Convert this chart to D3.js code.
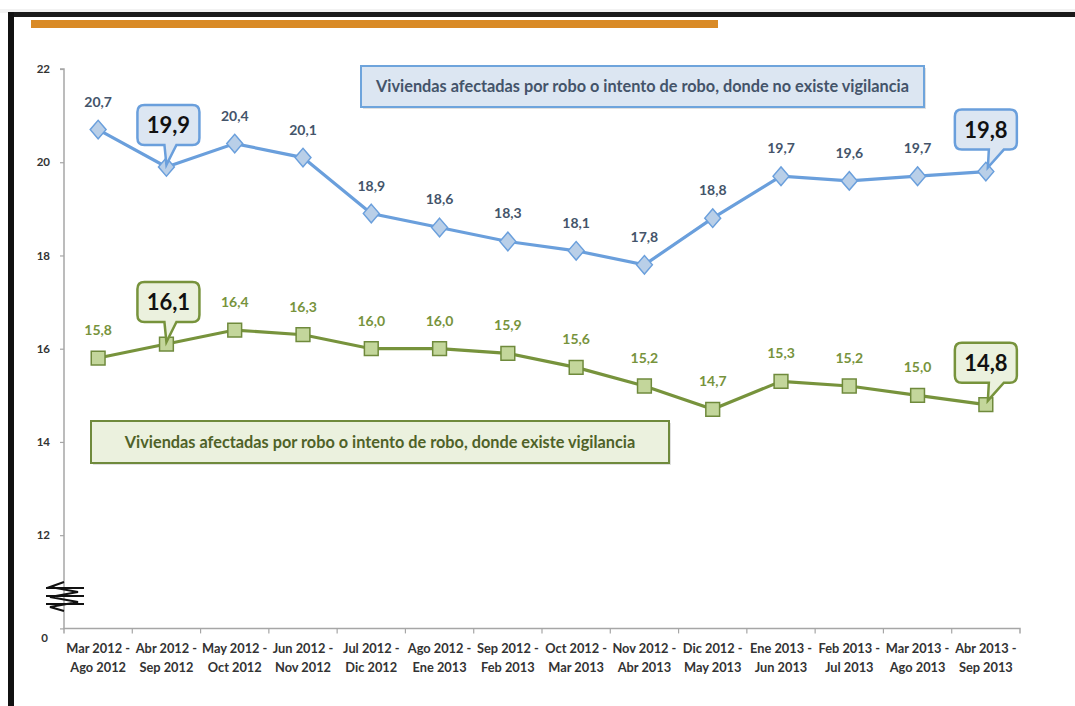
<!DOCTYPE html>
<html><head><meta charset="utf-8">
<script src="https://cdn.jsdelivr.net/npm/d3@7"></script>
<style>body{margin:0;background:#fff}svg{display:block}text{font-family:Lato,"Open Sans",sans-serif}</style>
</head><body><svg id="c" width="1075" height="706"></svg>
<script>
const categories = [
  ["Mar 2012 -","Ago 2012"],["Abr 2012 -","Sep 2012"],["May 2012 -","Oct 2012"],["Jun 2012 -","Nov 2012"],
  ["Jul 2012 -","Dic 2012"],["Ago 2012 -","Ene 2013"],["Sep 2012 -","Feb 2013"],["Oct 2012 -","Mar 2013"],
  ["Nov 2012 -","Abr 2013"],["Dic 2012 -","May 2013"],["Ene 2013 -","Jun 2013"],["Feb 2013 -","Jul 2013"],
  ["Mar 2013 -","Ago 2013"],["Abr 2013 -","Sep 2013"]];
const sinVigilancia = [20.7,19.9,20.4,20.1,18.9,18.6,18.3,18.1,17.8,18.8,19.7,19.6,19.7,19.8];
const conVigilancia = [15.8,16.1,16.4,16.3,16.0,16.0,15.9,15.6,15.2,14.7,15.3,15.2,15.0,14.8];
const yTicks = [10,12,14,16,18,20,22];
const yTickLabels = {10:"0",12:"12",14:"14",16:"16",18:"18",20:"20",22:"22"};
const highlighted = [1,13];
const legendSin = "Viviendas afectadas por robo o intento de robo, donde no existe vigilancia";
const legendCon = "Viviendas afectadas por robo o intento de robo, donde existe vigilancia";

const svg = d3.select("#c");
const fmt = v => d3.format(".1f")(v).replace(".", ",");

// frame
svg.append("rect").attr("x",0).attr("y",9).attr("width",1075).attr("height",4).attr("fill","#f2f2f2");
svg.append("rect").attr("x",8).attr("y",12).attr("width",1067).attr("height",5).attr("fill","#1a1a1a");
svg.append("rect").attr("x",8).attr("y",12).attr("width",6).attr("height",694).attr("fill","#111");
svg.append("rect").attr("x",31).attr("y",20).attr("width",687).attr("height",8).attr("fill","#d98a26");

const x = d3.scaleBand().domain(d3.range(categories.length)).range([64,1020]);
const y = d3.scaleLinear().domain([10,22]).range([628.4,69]);
const cx = i => x(i) + x.bandwidth()/2;

// y axis
const yAxis = d3.axisLeft(y).tickValues(yTicks).tickFormat(d => yTickLabels[d]).tickSize(4).tickPadding(10);
const gy = svg.append("g").attr("transform","translate(64,0)").call(yAxis);
gy.select(".domain").attr("stroke","#a6a6a6").attr("stroke-width",1.5).attr("d","M-4,69H0V628.4");
gy.selectAll(".tick line").attr("stroke","#a6a6a6").attr("stroke-width",1.2);
gy.selectAll(".tick text").attr("font-size",11.5).attr("font-weight","bold").attr("fill","#333").attr("font-family","Lato");
gy.selectAll(".tick").filter(d=>d===10).select("text").attr("dy","1.1em").attr("dx","-2");

// x axis
const gx = svg.append("g").attr("transform","translate(0,628.4)");
gx.append("path").attr("d",`M64,5V0H1020V5`).attr("fill","none").attr("stroke","#a6a6a6").attr("stroke-width",1.5);
gx.selectAll("line.tk").data(d3.range(1,categories.length)).join("line").attr("class","tk")
  .attr("x1",d=>x(d)).attr("x2",d=>x(d)).attr("y1",0).attr("y2",5).attr("stroke","#a6a6a6").attr("stroke-width",1.2);
const xl = gx.selectAll("text").data(categories).join("text")
  .attr("x",(d,i)=>cx(i)).attr("text-anchor","middle").attr("font-size",12.8).attr("font-weight","bold").attr("fill","#333");
xl.append("tspan").attr("x",(d,i)=>cx(i)).attr("y",25).text(d=>d[0]);
xl.append("tspan").attr("x",(d,i)=>cx(i)).attr("y",44).text(d=>d[1]);

// axis break
svg.append("path").attr("d","M46,588H84M46,596H84M46,604H84M64,582L50,587L78,592L50,597L78,602L50,607L64,611")
  .attr("fill","none").attr("stroke","#111").attr("stroke-width",2);

// legend boxes
function legend(x0,y0,w,h,fill,stroke,color,txt,fs){
  svg.append("rect").attr("x",x0+2).attr("y",y0+2).attr("width",w).attr("height",h).attr("fill","#ccc").attr("opacity",0.6);
  svg.append("rect").attr("x",x0).attr("y",y0).attr("width",w).attr("height",h).attr("fill",fill).attr("stroke",stroke).attr("stroke-width",2);
  svg.append("text").attr("x",x0+w/2).attr("y",y0+h/2+5.5).attr("text-anchor","middle").attr("font-size",fs)
    .attr("font-weight","bold").attr("fill",color).text(txt);
}
legend(361,66,563,41,"#dce6f2","#6ea4dc","#44546a",legendSin,16.3);
legend(91,421,578,42,"#ebf1de","#6f8a3c","#4f6228",legendCon,16.3);

// series
function series(vals, lineColor, fill, markerStroke, labelColor, shape, callFill){
  const line = d3.line().x((d,i)=>cx(i)).y(d=>y(d));
  svg.append("path").datum(vals).attr("d",line).attr("fill","none").attr("stroke",lineColor).attr("stroke-width",3.2);
  const sym = d3.symbol().type(shape).size(shape===d3.symbolSquare?190:200);
  svg.selectAll(null).data(vals).join("path")
    .attr("transform",(d,i)=>`translate(${cx(i)},${y(d)})` + (shape===d3.symbolSquare?"":" scale(0.9,1.05)"))
    .attr("d",sym).attr("fill",fill).attr("stroke",markerStroke).attr("stroke-width",1.5);
  svg.selectAll(null).data(vals.map((v,i)=>[v,i]).filter(d=>!highlighted.includes(d[1]))).join("text")
    .attr("x",d=>cx(d[1])).attr("y",d=>y(d[0])-23).attr("text-anchor","middle").attr("font-size",14)
    .attr("font-weight","bold").attr("fill",labelColor).text(d=>fmt(d[0]));
  highlighted.forEach(i=>{
    const px = cx(i), py = y(vals[i]);
    const w = 62, h = 40, bx = px - (i===0||i===1?29:31), by = py - 22 - h;
    const r = 7;
    const tx0 = i===1 ? px-2 : px+3, tx1 = i===1 ? px+10 : px+18;
    const tip = i===1 ? [px, py-2] : [px+2, py-4];
    const p = `M${bx+r},${by}H${bx+w-r}Q${bx+w},${by} ${bx+w},${by+r}V${by+h-r}Q${bx+w},${by+h} ${bx+w-r},${by+h}`+
      `H${tx1}L${tip[0]},${tip[1]}L${tx0},${by+h}H${bx+r}Q${bx},${by+h} ${bx},${by+h-r}V${by+r}Q${bx},${by} ${bx+r},${by}Z`;
    svg.append("path").attr("d",p).attr("fill",callFill).attr("stroke",lineColor).attr("stroke-width",2.5);
    svg.append("text").attr("x",bx+w/2).attr("y",by+h/2+8).attr("text-anchor","middle").attr("font-size",22)
      .attr("font-weight","bold").attr("fill","#111").text(fmt(vals[i]));
  });
}
series(sinVigilancia,"#6a9fdc","#b9cfe8","#6a9fdc","#44546a",d3.symbolDiamond2,"#dce6f2");
series(conVigilancia,"#77933c","#c3d69b","#6f8a3c","#77933c",d3.symbolSquare,"#ebf1de");
</script></body></html>
